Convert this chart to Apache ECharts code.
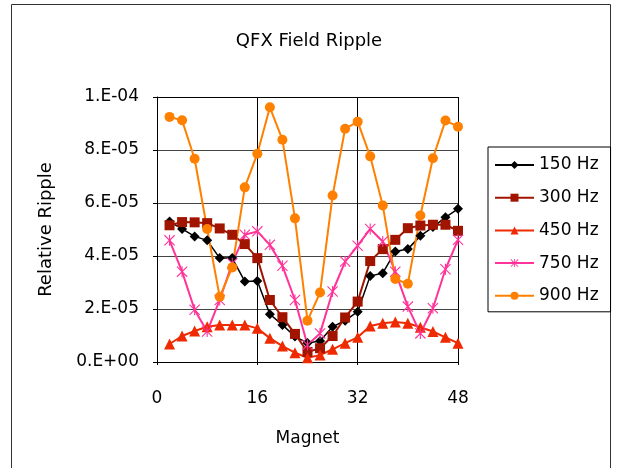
<head>
    <title>QFX Field Ripple</title>
    <meta charset="utf-8">
    <script type="text/javascript" src="https://cdn.jsdelivr.net/npm/echarts@6/dist/echarts.min.js"></script>
    <style>
        body { margin: 0; background: #fff; }
    </style>
</head>
<div id="chartmain" style="width:618px; height:468px;"></div>

<script type="text/javascript">
    // magnet positions (x) and ripple values, read in units of 1e-5
    var UNIT = 1e-5;
    var magnet = [2, 4, 6, 8, 10, 12, 14, 16, 18, 20, 22, 24, 26, 28, 30, 32, 34, 36, 38, 40, 42, 44, 46, 48];
    var hz150 = [5.30, 5.02, 4.74, 4.59, 3.92, 3.92, 3.04, 3.06, 1.80, 1.40, 0.96, 0.72, 0.79, 1.33, 1.56, 1.90, 3.25, 3.35, 4.17, 4.26, 4.76, 5.09, 5.46, 5.78];
    var hz300 = [5.16, 5.28, 5.27, 5.24, 5.04, 4.80, 4.45, 3.92, 2.34, 1.69, 1.06, 0.38, 0.52, 0.98, 1.68, 2.28, 3.81, 4.26, 4.61, 5.05, 5.15, 5.18, 5.18, 4.95];
    var hz450 = [0.68, 0.98, 1.17, 1.33, 1.40, 1.40, 1.40, 1.27, 0.90, 0.60, 0.35, 0.16, 0.26, 0.48, 0.71, 0.93, 1.36, 1.46, 1.51, 1.46, 1.31, 1.15, 0.93, 0.71];
    var hz750 = [4.59, 3.41, 1.97, 1.15, 2.34, 3.73, 4.80, 4.93, 4.42, 3.63, 2.34, 0.64, 1.08, 2.66, 3.79, 4.39, 5.02, 4.55, 3.41, 2.09, 1.08, 2.03, 3.50, 4.61];
    var hz900 = [9.25, 9.12, 7.67, 5.02, 2.46, 3.57, 6.59, 7.86, 9.61, 8.39, 5.42, 1.56, 2.62, 6.28, 8.80, 9.07, 7.76, 5.91, 3.13, 2.95, 5.53, 7.69, 9.11, 8.88];
    var seriesNames = ['150 Hz', '300 Hz', '450 Hz', '750 Hz', '900 Hz'];
    var xTicks = [0, 16, 32, 48];
    var yTickLabels = ['0.E+00', '2.E-05', '4.E-05', '6.E-05', '8.E-05', '1.E-04'];

    var FONT = 'DejaVu Sans';
    // excel style "*" marker
    var asterisk = 'path://M4.5,0 L5.5,0 L5.5,10 L4.5,10 Z M0,0.7 L0.7,0 L10,9.3 L9.3,10 Z M10,0.7 L0.7,10 L0,9.3 L9.3,0 Z';

    function pairs(vals) {
        return magnet.map(function (m, i) { return [m, vals[i] * UNIT]; });
    }

    function line(name, vals, color, symbol, size, width) {
        return {
            name: name,
            type: 'line',
            data: pairs(vals),
            symbol: symbol,
            symbolSize: size,
            showSymbol: true,
            lineStyle: { color: color, width: width },
            itemStyle: { color: color, borderWidth: 0 },
            animation: false
        };
    }

    var option = {
        backgroundColor: '#fff',
        title: {
            text: 'QFX Field Ripple',
            left: 'center',
            top: 27,
            textStyle: { fontFamily: FONT, fontSize: 18, fontWeight: 'normal', color: '#000' }
        },
        legend: {
            orient: 'vertical',
            left: 488,
            top: 147,
            padding: [8, 12, 6, 6],
            itemWidth: 39,
            itemHeight: 10,
            itemGap: 12.7,
            borderColor: '#000',
            borderWidth: 1,
            textStyle: { fontFamily: FONT, fontSize: 17, color: '#000', lineHeight: 20 },
            data: seriesNames
        },
        grid: { left: 157, top: 97, width: 301, height: 265, containLabel: false },
        xAxis: {
            type: 'value',
            min: 0,
            max: 48,
            interval: 16,
            name: 'Magnet',
            nameLocation: 'middle',
            nameGap: 68,
            nameTextStyle: { fontFamily: FONT, fontSize: 17, color: '#000' },
            axisLine: { show: true, onZero: false, lineStyle: { color: '#000' } },
            axisTick: { show: true, length: 3, lineStyle: { color: '#000' } },
            axisLabel: {
                fontFamily: FONT, fontSize: 17, color: '#000', margin: 28,
                formatter: function (v) { return xTicks.indexOf(v) >= 0 ? String(v) : ''; }
            },
            splitLine: { show: true, lineStyle: { color: '#000', width: 1 } }
        },
        yAxis: {
            type: 'value',
            min: 0,
            max: 10 * UNIT,
            interval: 2 * UNIT,
            name: 'Relative Ripple',
            nameLocation: 'middle',
            nameGap: 102,
            nameTextStyle: { fontFamily: FONT, fontSize: 18, color: '#000' },
            axisLine: { show: true, lineStyle: { color: '#000' } },
            axisTick: { show: true, length: 4, lineStyle: { color: '#000' } },
            axisLabel: {
                fontFamily: FONT, fontSize: 17, color: '#000', margin: 18,
                formatter: function (v) { return yTickLabels[Math.round(v / (2 * UNIT))]; }
            },
            splitLine: { show: true, lineStyle: { color: '#444', width: 1 } }
        },
        graphic: [
            {
                type: 'rect',
                shape: { x: 11.5, y: 4.5, width: 599, height: 480 },
                style: { fill: null, stroke: '#333', lineWidth: 1 },
                silent: true
            },
            {
                type: 'rect',
                shape: { x: 157.5, y: 97.5, width: 301, height: 265 },
                style: { fill: null, stroke: '#000', lineWidth: 1 },
                silent: true,
                z: 1
            }
        ],
        series: [
            line('150 Hz', hz150, '#000000', 'diamond', 10, 1.5),
            line('300 Hz', hz300, '#a01400', 'rect', 10, 2),
            line('450 Hz', hz450, '#f02a00', 'triangle', 11, 2),
            line('750 Hz', hz750, '#ff3399', asterisk, 11, 2),
            line('900 Hz', hz900, '#ff8000', 'circle', 10, 2)
        ]
    };

    var myChart = echarts.init(document.getElementById('chartmain'), null, { renderer: 'canvas' });
    myChart.setOption(option);
</script>
